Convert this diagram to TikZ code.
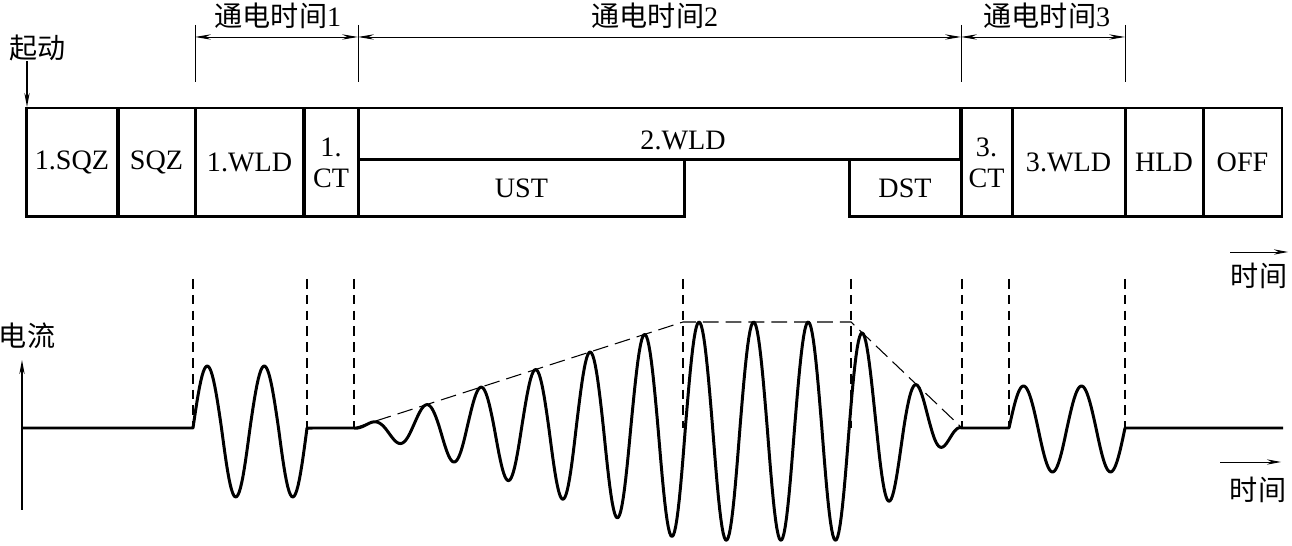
\documentclass[tikz,border=0pt]{standalone}
\usepackage{fontspec}
\setmainfont{Liberation Serif}
\newfontfamily\cjk{Noto Sans CJK SC}
\usepackage{tikz}
\usetikzlibrary{arrows.meta}

\begin{document}
\begin{tikzpicture}[x=0.02cm,y=-0.02cm,
    blk/.style={draw,line width=1.7pt,inner sep=0pt,align=center,
                minimum height=2.18cm,font=\fontsize{16}{17.5}\selectfont},
    lbl/.style={inner sep=0pt,font=\fontsize{16}{18}\selectfont},
    dim/.style={line width=0.5pt,>={Stealth[length=9pt,width=3pt]},<->},
    arr/.style={line width=0.7pt,-{Stealth[length=8pt,width=3pt]}},
    guide/.style={line width=0.6pt,dash pattern=on 5.5pt off 3.5pt},
    env/.style={line width=0.6pt,dash pattern=on 9pt off 4pt},
    wave/.style={line width=1.7pt,line join=round},
    declare function={hump(\s,\a,\b)=\s*((\s>0)*\a+(\s<=0)*\b);
                      env(\p)=106*min(1,(\p-354)/329,(962-\p)/111);}
  ]
  \useasboundingbox (0,0) rectangle (1292,546);

  \node[lbl] (start) at (38,48) {\cjk 起动};
  \coordinate (go) at (27,107);
  \draw[arr] (start.south -| go) -- (go);

  \node[lbl] (on1) at (278,16) {{\cjk 通电时间}1};
  \node[lbl] (on2) at (655,16) {{\cjk 通电时间}2};
  \node[lbl] (on3) at (1047,16) {{\cjk 通电时间}3};
  \draw[line width=0.5pt] (195,25) -- (195,82);
  \draw[line width=0.5pt] (358,25) -- (358,82);
  \draw[line width=0.5pt] (961,25) -- (961,82);
  \draw[line width=0.5pt] (1125,25) -- (1125,82);
  \coordinate (m1) at (195,37);
  \coordinate (m2) at (358,37);
  \coordinate (m3) at (961,37);
  \coordinate (m4) at (1125,37);
  \draw[dim] (m1) -- (m2);
  \draw[dim] (m2) -- (m3);
  \draw[dim] (m3) -- (m4);

  \node[blk,minimum width=1.84cm] (sqz1) at (72,162.5) {1.SQZ};
  \node[blk,minimum width=1.54cm] (sqz) at (156.5,162.5) {SQZ};
  \node[blk,minimum width=2.18cm] (wld1) at (249.5,162.5) {1.WLD};
  \node[blk,minimum width=1.08cm] (ct1) at (331,162.5) {1.\\CT};
  \node[blk,minimum width=12.06cm,minimum height=1.04cm] (wld2) at (659.5,134) {};
  \node[lbl] (wld2txt) at (683,140) {2.WLD};
  \node[blk,minimum width=6.54cm,minimum height=1.14cm] (ust) at (521.5,188.5) {UST};
  \node[blk,minimum width=2.24cm,minimum height=1.14cm] (dst) at (905,188.5) {DST};
  \node[blk,minimum width=1.02cm] (ct3) at (986.5,162.5) {3.\\CT};
  \node[blk,minimum width=2.26cm] (wld3) at (1068.5,162.5) {3.WLD};
  \node[blk,minimum width=1.56cm] (hld) at (1164,162.5) {HLD};
  \node[blk,minimum width=1.58cm] (off) at (1242.5,162.5) {OFF};

  \node[lbl] (time1) at (1259,276) {\cjk 时间};
  \coordinate (ta) at (1230,252);
  \coordinate (tb) at (1288,252);
  \draw[arr,line width=0.5pt] (ta) -- (tb);

  \node[lbl] (cur) at (27,336) {\cjk 电流};
  \coordinate (o) at (22,510);
  \coordinate (ytop) at (22,360);
  \draw[arr,line width=0.9pt] (o) -- (ytop);
  \node[lbl] (time2) at (1258,490) {\cjk 时间};
  \coordinate (tc) at (1220,462);
  \coordinate (td) at (1281,462);
  \draw[arr,line width=0.5pt] (tc) -- (td);

  \draw[guide] (193,279) -- (193,428);
  \draw[guide] (307,279) -- (307,428);
  \draw[guide] (354,279) -- (354,428);
  \draw[guide] (683,279) -- (683,428);
  \draw[guide] (851,279) -- (851,428);
  \draw[guide,line width=1pt] (962,279) -- (962,428);
  \draw[guide] (1009,279) -- (1009,428);
  \draw[guide,line width=1pt] (1125,279) -- (1125,428);
  \draw[env] (354,428) -- (683,322) -- (851,322) -- (962,428);

  \coordinate (base) at (22,428);
  \draw[wave] (base) -- (193,428)
    -- plot[domain=193:307,samples=90] (\x,{428-hump(sin((\x-193)/57*360),62,69)})
    -- (354,428)
    -- plot[domain=354:962,samples=500] (\x,{428-env(\x)*hump(sin((\x-412.35)/54.6*360),1,1.06)})
    -- (1009,428)
    -- plot[domain=1009:1125,samples=90] (\x,{428-hump(sin((\x-1009)/58*360),42,44)})
    -- (1283,428);
\end{tikzpicture}
\end{document}
